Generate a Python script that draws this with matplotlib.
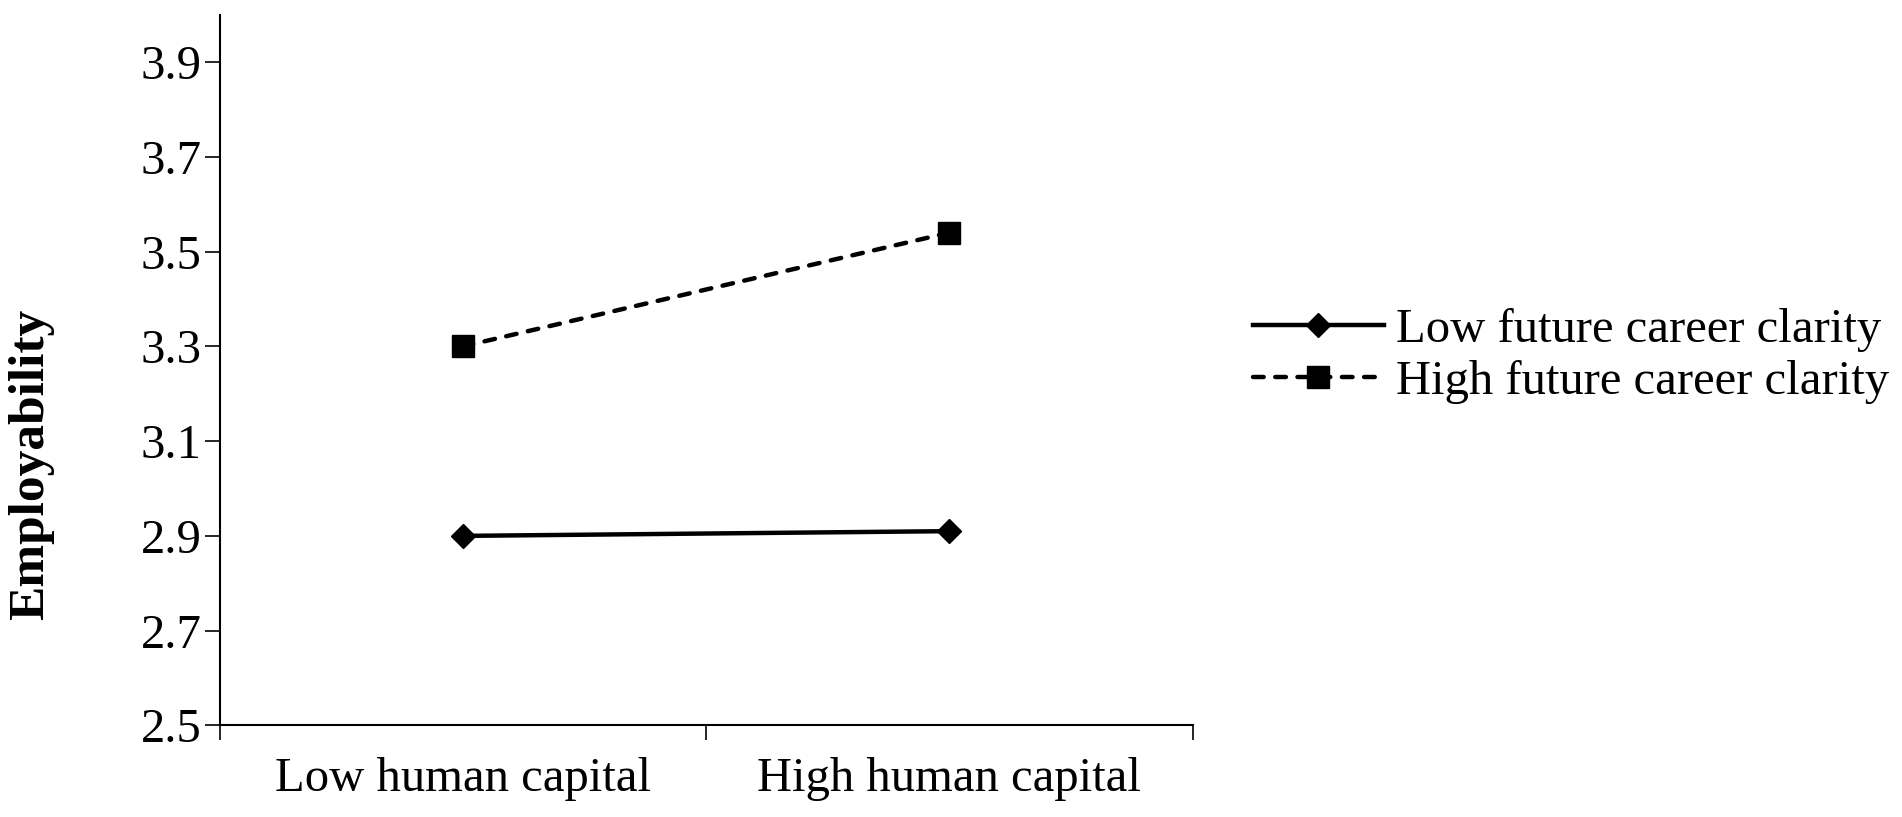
import matplotlib
matplotlib.use("Agg")
import matplotlib.pyplot as plt

categories = ["Low human capital", "High human capital"]
series_names = ["Low future career clarity", "High future career clarity"]
low_clarity = [2.90, 2.91]
high_clarity = [3.30, 3.54]
y_ticks = [2.5, 2.7, 2.9, 3.1, 3.3, 3.5, 3.7, 3.9]

plt.rcParams['font.family'] = ['Liberation Serif', 'DejaVu Serif']

fig = plt.figure(figsize=(19.02, 8.17), dpi=100)
ax = fig.add_axes([0.1155, 0.1121, 0.627 - 0.1155, 0.982 - 0.1121])

x = [0.5, 1.5]
ax.plot(x, low_clarity, color='black', lw=3.2, marker='D', ms=12.5,
        label=series_names[0])
ax.plot(x, high_clarity, color='black', lw=3.2, marker='s', ms=16,
        linestyle=(0, (2.4, 2.6)), dash_capstyle='round', label=series_names[1])

ax.set_xlim(0, 2)
ax.set_ylim(2.5, 4.0)
ax.set_yticks(y_ticks)
ax.set_yticklabels([f"{v:.1f}" for v in y_ticks])
ax.set_xticks([0, 1, 2])
ax.set_xticklabels([])
ax.set_xticks(x, minor=True)
ax.set_xticklabels(categories, minor=True)
ax.tick_params(axis='x', which='minor', length=0, pad=23, labelsize=35)
ax.tick_params(axis='x', which='major', length=11, width=1.2, direction='out')
ax.tick_params(axis='y', length=11, width=1.2, direction='out', labelsize=35, pad=2)

for s in ['top', 'right']:
    ax.spines[s].set_visible(False)
for s in ['left', 'bottom']:
    ax.spines[s].set_linewidth(1.5)

ax.set_ylabel("Employability", fontsize=37, fontweight='bold')
ax.yaxis.set_label_coords(-0.17, 0.367)

leg = ax.legend(loc='center left', bbox_to_anchor=(1.062, 0.52), frameon=False,
                fontsize=35, handlelength=2.7, handletextpad=0.25,
                labelspacing=0.17, borderaxespad=0, borderpad=0)

fig.savefig("out.png", dpi=100, facecolor='white')
